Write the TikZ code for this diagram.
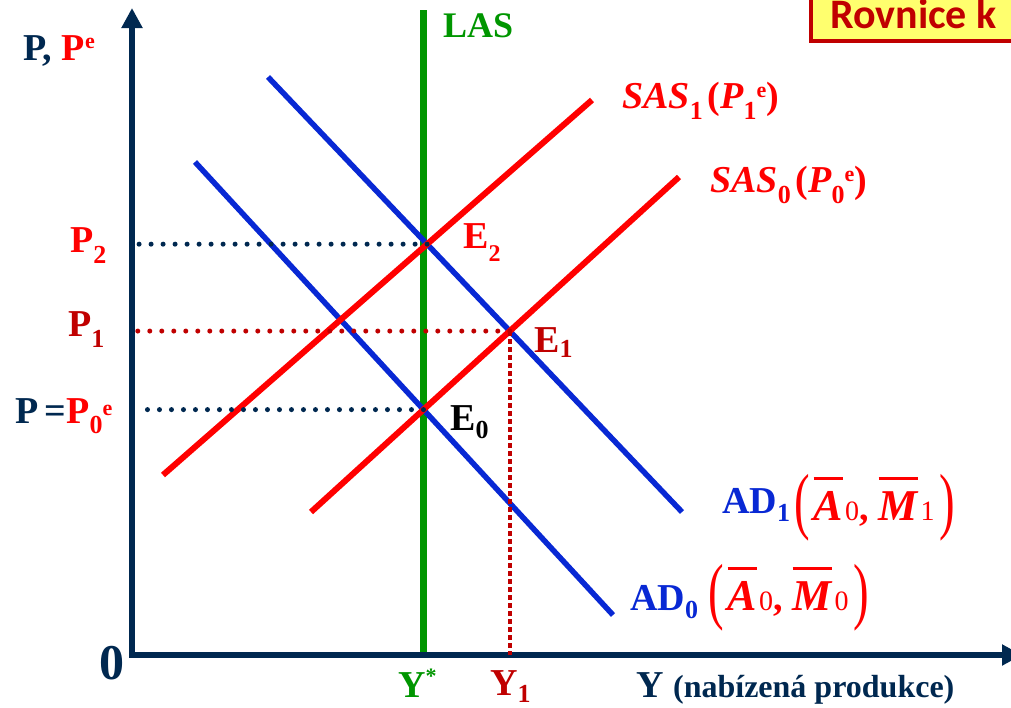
\documentclass[tikz,border=0pt]{standalone}
\usepackage{fontspec}
\setmainfont{Liberation Serif}
\newfontfamily\boxfont{Carlito}
\usepackage{graphicx}
\usetikzlibrary{arrows.meta,intersections}
\definecolor{navy}{RGB}{0,40,80}
\definecolor{adblue}{RGB}{8,40,212}
\definecolor{dred}{RGB}{192,0,0}
\definecolor{lasgreen}{RGB}{0,150,0}
\definecolor{boxyellow}{RGB}{255,255,110}
\newcommand\fsz[1]{\fontsize{#1}{#1}\selectfont}
\newcommand\lo[2][10]{\raisebox{-#1pt}{\fsz{26}#2}}
\newcommand\hi[2][12]{\raisebox{#1pt}{\fsz{22}#2}}
\newcommand\ovl[1]{\vbox{\hrule height 3pt\kern 11pt\hbox{#1}}}
\newcommand\bp[1]{\raisebox{-5pt}{\scalebox{1.3}[2.05]{\mdseries\upshape\fsz{36}#1}}}
\newcommand\sm[1]{{\mdseries\upshape\fsz{28}#1}}
\begin{document}
\begin{tikzpicture}[x=1pt,y=-1pt,
  axis/.style={navy, line width=6.5, line join=miter},
  adline/.style={adblue, line width=5.5},
  sasline/.style={red, line width=6},
  lasline/.style={lasgreen, line width=6.5},
  dotnavy/.style={navy, line width=5, line cap=round, dash pattern=on 0pt off 12pt},
  dotred/.style={dred, line width=5, line cap=round, dash pattern=on 0pt off 12pt},
  dotvert/.style={dred, line width=4.5, dash pattern=on 5pt off 3pt},
  lbl/.style={inner sep=0, anchor=base west, font=\bfseries\fsz{38}}]
\useasboundingbox (0,0) rectangle (1011,707);
\clip (0,0) rectangle (1011,707);
\fill[white] (0,0) rectangle (1011,707);
% title box
\draw[dred, line width=4.5, fill=boxyellow] (811,-10) rectangle (1030,41);
\node[anchor=base west, text=dred, font=\boxfont\bfseries\fsz{42}, inner sep=0] (title) at (830,28) {Rovnice k};
% coordinates
\coordinate (O) at (132,655);
\coordinate (ytop) at (132,8);
\coordinate (xend) at (1022,655);
\coordinate (top) at (0,10);
\coordinate (axn) at (137,0);
\coordinate (axr) at (128,0);
% curves (paths only, for intersections)
\path[name path=ad0] (195,162) -- (613,615);
\path[name path=ad1] (268,77) -- (682,512);
\path[name path=sas0] (311,512) -- (679,177);
\path[name path=sas1] (163,475) -- (592,100);
\path[name intersections={of=ad0 and sas0, by=E0}];
\path[name intersections={of=ad1 and sas1, by=E2}];
\path[name intersections={of=ad1 and sas0, by=E1}];
% LAS
\draw[lasline] (E0 |- top) -- (E0 |- O);
% AD and SAS lines
\draw[adline] (195,162) -- (613,615);
\draw[adline] (268,77) -- (682,512);
\draw[sasline] (311,512) -- (679,177);
\draw[sasline] (163,475) -- (592,100);
% axes
\draw[axis, {Triangle[length=20pt,width=20pt]}-{Triangle[length=20pt,width=20pt]}] (ytop) |- (xend);
% dotted guides
\draw[dotnavy] (E2) -- (E2 -| axn);
\draw[dotnavy] (E0) -- (E0 -| axn);
\draw[dotred] (E1) -- (E1 -| axr);
\draw[dotvert] (E1) -- (E1 |- O);
% labels
\node[lbl] (plbl) at (23,60) {\color{navy}P, \color{red}P\hi[12]{e}};
\node[lbl, lasgreen, font=\bfseries\fsz{36}] (laslbl) at (443,37) {LAS};
\node[lbl, red] (sas1lbl) at (622,108) {\itshape SAS\upshape\lo[11]{1}\hspace{5pt}(\itshape P\upshape\lo[11]{1}\hi[11]{e})};
\node[lbl, red] (sas0lbl) at (710,192) {\itshape SAS\upshape\lo[11]{0}\hspace{5pt}(\itshape P\upshape\lo[11]{0}\hi[11]{e})};
\node[lbl, red] (p2lbl) at (70,252) {P\lo[11]{2}};
\node[lbl, dred] (p1lbl) at (68,336) {P\lo[11]{1}};
\node[lbl] (p0lbl) at (15,423) {\color{navy}P\,=\color{red}P\lo[10]{0}\hi[8]{e}};
\node[lbl, red] (e2lbl) at (463,248) {E\lo[13]{\fsz{24}2}};
\node[lbl, dred] (e1lbl) at (534,352) {E\lo[5]{1}};
\node[lbl, black] (e0lbl) at (450,430) {E\lo[8]{0}};
\node[lbl, lasgreen] (ystar) at (398,697) {Y\hi[14]{*}};
\node[lbl, dred] (y1lbl) at (490,695) {Y\lo[7]{1}};
\node[lbl, navy] (ylbl) at (636,697) {Y \fsz{32}(nabízená produkce)};
\node[lbl, navy] (zero) at (99,679) {\fsz{50}0};
\node[lbl] (ad1lbl) at (722,520) {\raisebox{7pt}{\color{adblue}AD\lo[8]{1}}\hspace{4pt}\color{red}\bp{(}\hspace{4pt}\ovl{\fsz{44}\itshape A}\hspace{2pt}\sm{0},\hspace{10pt}\ovl{\fsz{44}\itshape M}\hspace{3pt}\sm{1}\hspace{5pt}\bp{)}};
\node[lbl] (ad0lbl) at (630,610) {\color{adblue}AD\lo[8]{0}\hspace{10pt}\color{red}\bp{(}\hspace{4pt}\ovl{\fsz{44}\itshape A}\hspace{2pt}\sm{0},\hspace{10pt}\ovl{\fsz{44}\itshape M}\hspace{3pt}\sm{0}\hspace{5pt}\bp{)}};
\end{tikzpicture}
\end{document}
